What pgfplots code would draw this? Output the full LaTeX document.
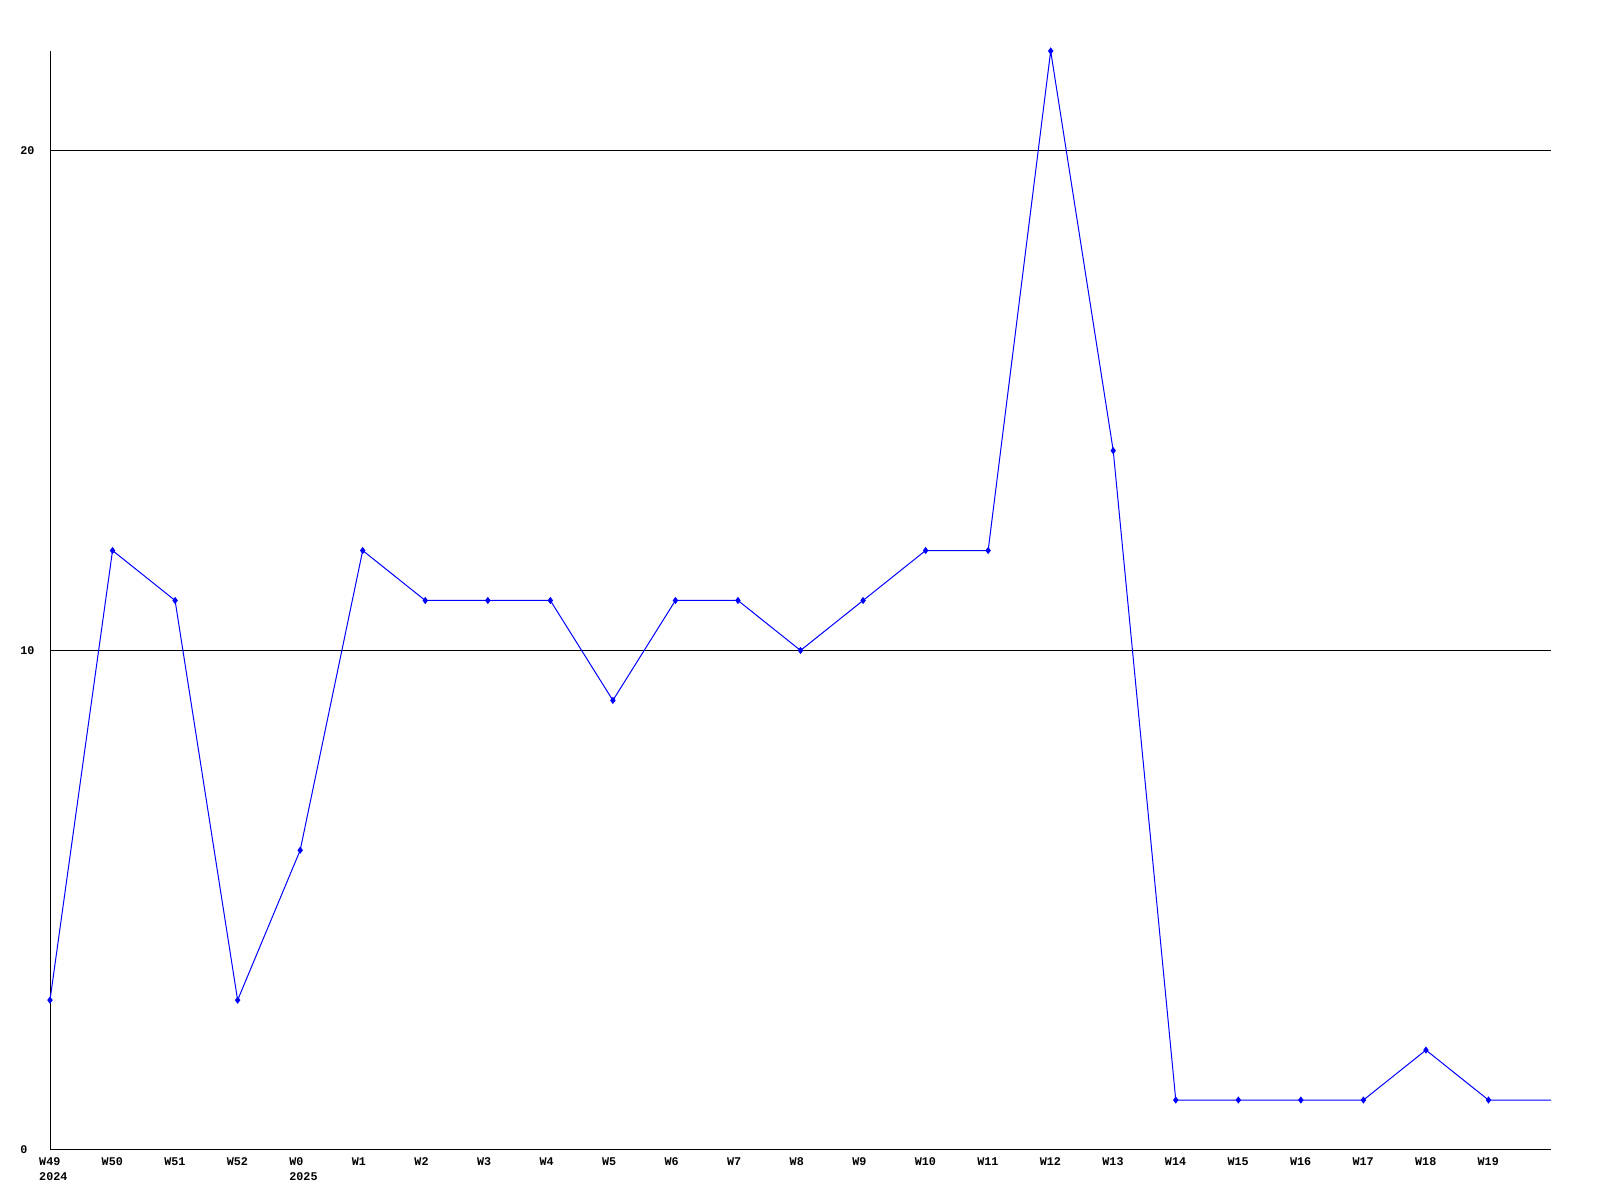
\documentclass[border=0pt]{standalone}
\usepackage{fontspec}
\setmonofont{Liberation Mono}
\usepackage{pgfplots}
\pgfplotsset{compat=1.18}
\begin{document}
\begin{tikzpicture}[x=1bp,y=1bp]
\useasboundingbox (0,0) rectangle (800,600);
\begin{axis}[
  at={(25bp,25bp)}, anchor=south west,
  scale only axis, width=750.5bp, height=549.5bp,
  xmin=0, xmax=24, ymin=0, ymax=22,
  axis x line=bottom, axis y line=left,
  axis line style={-, line width=0.5bp, black},
  major tick length=0pt,
  ytick={0,10,20}, yticklabels={0,10,20},
  ymajorgrids, grid style={black, line width=0.5bp},
  xtick={0,...,23},
  xticklabels={{W49\\2024},W50,W51,W52,{W0\\2025},W1,W2,W3,W4,W5,W6,W7,W8,W9,W10,W11,W12,W13,W14,W15,W16,W17,W18,W19},
  ticklabel style={font=\ttfamily\bfseries\fontsize{5.9}{7.5}\selectfont, inner sep=0pt},
  xticklabel style={anchor=north west, align=left, yshift=-3.5bp, xshift=-5.6bp},
  yticklabel style={anchor=west, xshift=-15bp},
  clip=false,
]
\addplot[color={rgb,255:red,0;green,0;blue,255}, line width=0.5bp, mark=diamond*, mark size=1.4bp, mark indices={1,...,24}]
coordinates {
(0,3)(1,12)(2,11)(3,3)(4,6)(5,12)(6,11)(7,11)(8,11)(9,9)(10,11)(11,11)(12,10)(13,11)(14,12)(15,12)(16,22)(17,14)(18,1)(19,1)(20,1)(21,1)(22,2)(23,1)(24,1)
};
\end{axis}
\end{tikzpicture}
\end{document}
